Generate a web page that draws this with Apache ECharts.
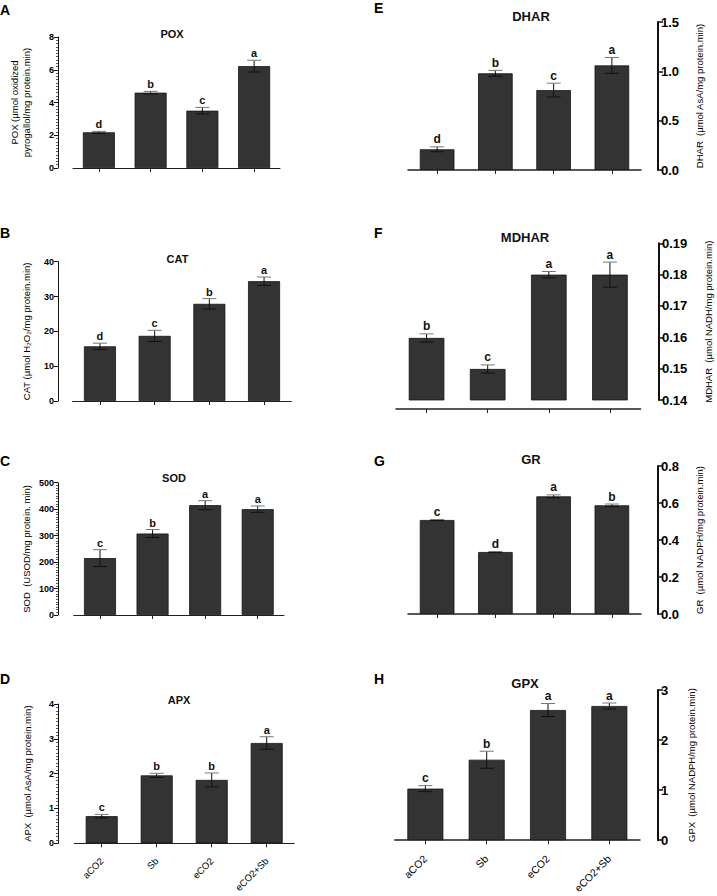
<!DOCTYPE html>
<html><head><meta charset="utf-8">
<script src="https://cdn.jsdelivr.net/npm/echarts@6/dist/echarts.min.js"></script>
<style>html,body{margin:0;padding:0;background:#fff}#c{width:717px;height:896px}</style>
</head><body><div id="c"></div>
<script>
const categories = ['aCO2', 'Sb', 'eCO2', 'eCO2+Sb'];

const poxMean = [2.18, 4.6, 3.5, 6.22];
const poxErr = [0.06, 0.08, 0.2, 0.36];
const poxLetters = ['d', 'b', 'c', 'a'];

const catMean = [15.7, 18.7, 27.9, 34.4];
const catErr = [0.9, 1.6, 1.5, 1.2];
const catLetters = ['d', 'c', 'b', 'a'];

const sodMean = [215, 308, 415, 400];
const sodErr = [32, 15, 17, 12];
const sodLetters = ['c', 'b', 'a', 'a'];

const apxMean = [0.78, 1.95, 1.82, 2.88];
const apxErr = [0.05, 0.06, 0.2, 0.18];
const apxLetters = ['c', 'b', 'b', 'a'];

const dharMean = [0.21, 0.98, 0.81, 1.06];
const dharErr = [0.025, 0.03, 0.07, 0.08];
const dharLetters = ['d', 'b', 'c', 'a'];

const mdharMean = [0.1598, 0.1499, 0.180, 0.180];
const mdharErr = [0.0013, 0.0013, 0.001, 0.004];
const mdharLetters = ['b', 'c', 'a', 'a'];

const grMean = [0.508, 0.335, 0.636, 0.5875];
const grErr = [0.003, 0.003, 0.008, 0.007];
const grLetters = ['c', 'd', 'a', 'b'];

const gpxMean = [1.03, 1.607, 2.6, 2.68];
const gpxErr = [0.06, 0.17, 0.13, 0.06];
const gpxLetters = ['c', 'b', 'a', 'a'];

const FONT = 'Arial, "Liberation Sans", sans-serif';

const panels = [
  {tag:'A', title:'POX', name:'POX (µmol oxidized\npyrogallol/mg protein.min)', mean:poxMean, err:poxErr, letters:poxLetters,
   min:0, max:8, interval:2, minor:true, dec:0, side:'left', grid:{left:73, top:37, width:207, height:131}, yOff:15, xOff:9, barW:32,
   tpos:[172, 35], lpos:[0, 3], showX:false, nameGap:26},
  {tag:'B', title:'CAT', name:'CAT (µmol H₂O₂/mg protein.min)', mean:catMean, err:catErr, letters:catLetters,
   min:0, max:40, interval:10, minor:false, dec:0, side:'left', grid:{left:72.6, top:261.7, width:218.8, height:139.3}, yOff:14.6, xOff:8, barW:32,
   tpos:[177.5, 260], lpos:[0, 226], showX:false, nameGap:26},
  {tag:'C', title:'SOD', name:'SOD  (USOD/mg protein. min)', mean:sodMean, err:sodErr, letters:sodLetters,
   min:0, max:500, interval:100, minor:true, dec:0, side:'left', grid:{left:73.7, top:482.7, width:210.3, height:132.3}, yOff:15.7, xOff:9, barW:32,
   tpos:[174, 479], lpos:[0, 454], showX:false, nameGap:26},
  {tag:'D', title:'APX', name:'APX  (µmol AsA/mg protein.min)', mean:apxMean, err:apxErr, letters:apxLetters,
   min:0, max:4, interval:1, minor:true, dec:0, side:'left', grid:{left:74.2, top:704, width:220, height:139.3}, yOff:16.2, xOff:9, barW:32,
   tpos:[179, 701], lpos:[0, 672], showX:true, nameGap:25},
  {tag:'E', title:'DHAR', name:'DHAR  (µmol AsA/mg protein.min)', mean:dharMean, err:dharErr, letters:dharLetters,
   min:0, max:1.5, interval:0.5, minor:false, dec:1, side:'right', grid:{left:408, top:22, width:233, height:148}, yOff:17, xOff:10, barW:34.6,
   tpos:[531, 17], lpos:[374, 1], showX:false, nameGap:35},
  {tag:'F', title:'MDHAR', name:'MDHAR  (µmol NADH/mg protein.min)', mean:mdharMean, err:mdharErr, letters:mdharLetters,
   min:0.14, max:0.19, interval:0.01, minor:false, dec:2, side:'right', grid:{left:396, top:243.3, width:244.5, height:156.7}, yOff:18.5, xOff:9, barW:35.6,
   tpos:[525, 238], lpos:[374, 226], showX:false, nameGap:43},
  {tag:'G', title:'GR', name:'GR  (µmol NADPH/mg protein.min)', mean:grMean, err:grErr, letters:grLetters,
   min:0, max:0.8, interval:0.2, minor:false, dec:1, side:'right', grid:{left:408, top:466, width:233, height:148}, yOff:17, xOff:9, barW:34.6,
   tpos:[531, 460], lpos:[374, 454], showX:false, nameGap:35},
  {tag:'H', title:'GPX', name:'GPX  (µmol NADPH/mg protein.min)', mean:gpxMean, err:gpxErr, letters:gpxLetters,
   min:0, max:3, interval:1, minor:false, dec:0, side:'right', grid:{left:394.7, top:690, width:245.3, height:155.7}, yOff:18, xOff:10, barW:36,
   tpos:[525, 684], lpos:[374, 672], showX:true, nameGap:27}
];

const grid = [], xAxis = [], yAxis = [], series = [], title = [], graphic = [];

panels.forEach(function (p, k) {
  const right = p.side === 'right';
  grid.push(Object.assign({containLabel:false}, p.grid));
  xAxis.push({
    type:'category', gridIndex:k, data:categories, offset:p.xOff,
    axisLine:{show:true, lineStyle:{color:'#222', width: right ? 1.5 : 1}},
    axisTick:{show:true, alignWithLabel:true, length:4, lineStyle:{color:'#222', width:1}},
    axisLabel:{show:p.showX, rotate:45, margin:7, color:'#000000', fontFamily:FONT, fontSize: right ? 10.5 : 9.5},
    splitLine:{show:false}
  });
  yAxis.push({
    type:'value', gridIndex:k, position:p.side, offset:p.yOff, min:p.min, max:p.max, interval:p.interval,
    name:p.name, nameLocation:'middle', nameGap:p.nameGap, nameRotate:90,
    nameTextStyle:{color:'#000000', fontFamily:FONT, fontSize: right ? 9.5 : 9.5, lineHeight:12},
    axisLine:{show:true, lineStyle:{color:'#111', width: right ? 2 : 1}},
    axisTick:{show:true, length: right ? 5 : 4, lineStyle:{color:'#111', width: right ? 1.5 : 1}},
    minorTick:{show:p.minor, splitNumber:10, length:2, lineStyle:{color:'#333', width:0.8}},
    axisLabel:{color:'#000000', fontFamily:FONT, fontWeight:'bold', fontSize: right ? 13 : 9, margin: right ? 3 : 4,
      formatter:(function (d) { return function (v) { return Number(v).toFixed(d); }; })(p.dec)},
    splitLine:{show:false}, minorSplitLine:{show:false}
  });
  series.push({
    type:'bar', xAxisIndex:k, yAxisIndex:k, data:p.mean, barWidth:p.barW,
    itemStyle:{color:'#333333', borderColor:'#151515', borderWidth:0.8}, silent:true, z:2
  });
  const letters = p.letters;
  const letterFont = 'bold ' + (right ? 12 : 11) + 'px ' + FONT;
  series.push({
    type:'custom', xAxisIndex:k, yAxisIndex:k, z:3, silent:true,
    data:p.mean.map(function (m, i) { return [i, m, p.err[i]]; }),
    encode:{x:0, y:1},
    renderItem:function (params, api) {
      const i = api.value(0), m = api.value(1), e = api.value(2);
      const hi = api.coord([i, m + e]);
      const lo = api.coord([i, m - e]);
      const x = hi[0], hw = 7;
      return {type:'group', children:[
        {type:'line', shape:{x1:x, y1:hi[1], x2:x, y2:lo[1]}, style:{stroke:'#111', lineWidth:1}},
        {type:'line', shape:{x1:x - hw, y1:hi[1], x2:x + hw, y2:hi[1]}, style:{stroke:'#777', lineWidth:1}},
        {type:'line', shape:{x1:x - hw, y1:lo[1], x2:x + hw, y2:lo[1]}, style:{stroke:'#111', lineWidth:1}},
        {type:'text', x:x, y:hi[1] - 1.5, style:{text:letters[i], textAlign:'center', textVerticalAlign:'bottom', font:letterFont, fill:'#111'}}
      ]};
    }
  });
  const tfs = right ? 13 : 11;
  title.push({
    text:p.title, left:p.tpos[0], top:p.tpos[1] - tfs * 0.55, textAlign:'center', padding:0,
    textStyle:{fontFamily:FONT, fontWeight:'bold', fontSize:tfs, color:'#111'}
  });
  graphic.push({
    type:'text', left:p.lpos[0], top:p.lpos[1],
    style:{text:p.tag, font:'bold 14px ' + FONT, fill:'#000'}
  });
});

const chart = echarts.init(document.getElementById('c'), null, {renderer:'svg', width:717, height:896});
chart.setOption({
  backgroundColor:'#ffffff', animation:false,
  textStyle:{color:'#000000', fontFamily:FONT},
  title:title, grid:grid, xAxis:xAxis, yAxis:yAxis, series:series, graphic:graphic
});
</script></body></html>
